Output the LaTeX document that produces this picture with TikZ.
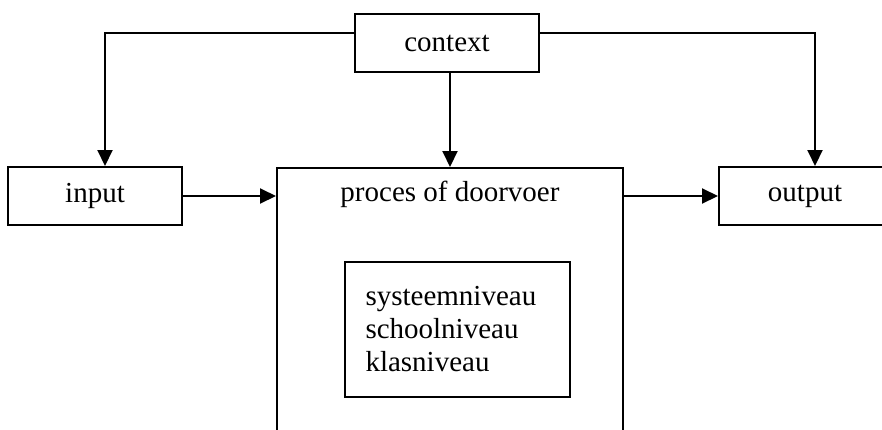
\documentclass[tikz,border=0pt]{standalone}
\usepackage{fontspec}
\setmainfont{Liberation Serif}
\usetikzlibrary{arrows.meta}
\tikzset{
  blok/.style={draw, rectangle, line width=2pt, inner sep=0pt},
  tekst/.style={font=\fontsize{29}{33}\selectfont}
}
\begin{document}
\begin{tikzpicture}[x=1pt,y=-1pt,line width=2pt,>={Triangle[length=16pt,width=15pt]}]
	\useasboundingbox (0,0) rectangle (882,429);
	\clip (0,0) rectangle (882,429);
	\node[blok,tekst,minimum width=184pt,minimum height=58pt] (context) at (447,43) {context};
	\node[blok,tekst,minimum width=174pt,minimum height=58pt] (input) at (95,196) {input};
	\node[blok,tekst,minimum width=172pt,minimum height=58pt] (output) at (805,196) {output};
	\node[blok,minimum width=346pt,minimum height=320pt,anchor=north] (proces) at (450,167) {};
	\node[tekst] (procestekst) at (450,194) {proces of doorvoer};
	\node[blok,tekst,align=left,text width=183pt,inner xsep=21pt,minimum height=135pt] (niveaus) at (457,329.5) {systeemniveau\\schoolniveau\\klasniveau};
	\draw[->] ([yshift=10pt]context.west) -| ([xshift=10pt]input.north);
	\draw[->] ([yshift=10pt]context.east) -| ([xshift=10pt]output.north);
	\draw[->] (proces.north |- context.south) -- (proces.north);
	\draw[->] (input.east) -- (proces.west |- input.east);
	\draw[->] (proces.east |- output.west) -- (output.west);
\end{tikzpicture}
\end{document}
